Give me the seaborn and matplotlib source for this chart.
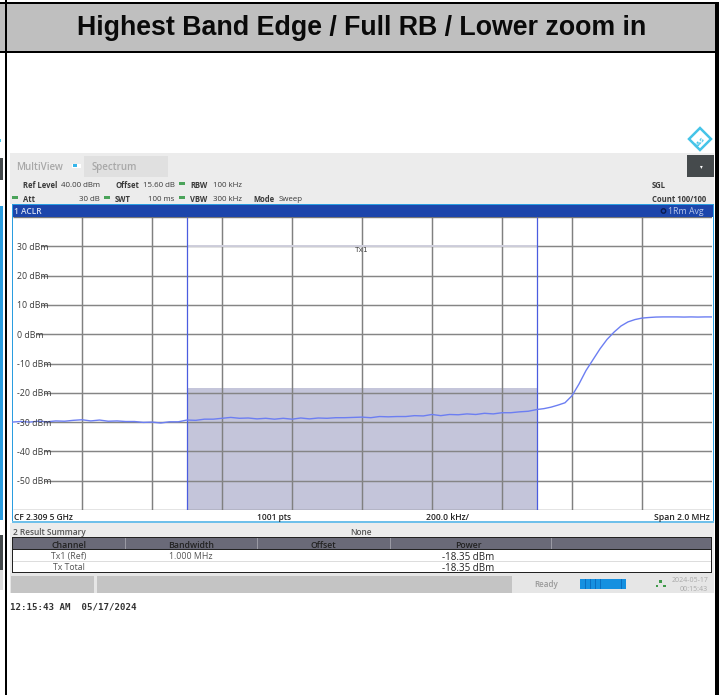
import pandas as pd
import matplotlib
matplotlib.use("Agg")
import matplotlib.pyplot as plt
from matplotlib.patches import Rectangle, Polygon, Circle
import seaborn as sns

W, H = 722, 695

# trace, offset from CF in MHz and level in dBm
freq_offset = [-1.0, -0.975, -0.95, -0.925, -0.9, -0.875, -0.85, -0.825, -0.8, -0.775,
               -0.75, -0.725, -0.7, -0.675, -0.65, -0.625, -0.6, -0.575, -0.55, -0.525,
               -0.5, -0.475, -0.45, -0.425, -0.4, -0.375, -0.35, -0.325, -0.3, -0.275,
               -0.25, -0.225, -0.2, -0.175, -0.15, -0.125, -0.1, -0.075, -0.05, -0.025,
               0.0, 0.025, 0.05, 0.075, 0.1, 0.125, 0.15, 0.175, 0.2, 0.225,
               0.25, 0.275, 0.3, 0.325, 0.35, 0.375, 0.4, 0.425, 0.45, 0.475,
               0.5, 0.52, 0.54, 0.56, 0.58, 0.6, 0.62, 0.64, 0.66, 0.68,
               0.7, 0.72, 0.74, 0.76, 0.78, 0.8, 0.82, 0.84, 0.86, 0.88,
               0.9, 0.92, 0.94, 0.96, 0.98, 1.0]
trace_dbm = [-30.0, -29.8, -30.0, -29.7, -29.9, -29.6, -29.7, -29.4, -29.2, -29.6,
             -29.3, -29.7, -29.6, -29.8, -29.8, -30.1, -30.0, -30.3, -29.9, -29.9,
             -29.3, -29.4, -29.0, -29.0, -28.7, -28.4, -28.7, -28.6, -28.9, -28.7,
             -29.0, -28.7, -29.0, -28.6, -28.9, -28.6, -28.7, -28.5, -28.5, -28.4,
             -28.3, -28.5, -28.1, -28.2, -28.1, -28.1, -27.8, -27.9, -27.4, -27.8,
             -27.4, -27.5, -27.2, -27.4, -27.0, -27.2, -26.8, -26.8, -26.5, -26.3,
             -25.7, -25.4, -24.9, -24.2, -23.4, -21.0, -17.0, -12.4, -8.7, -5.0,
             -1.8, 0.7, 2.8, 4.2, 5.0, 5.5, 5.7, 5.85, 5.9, 5.9,
             5.9, 5.85, 5.9, 5.85, 5.9, 5.9]

y_ticks = [30, 20, 10, 0, -10, -20, -30, -40, -50]
y_labels = ["30 dBm", "20 dBm", "10 dBm", "0 dBm", "-10 dBm", "-20 dBm", "-30 dBm", "-40 dBm", "-50 dBm"]
x_grid = [-0.8, -0.6, -0.4, -0.2, 0.0, 0.2, 0.4, 0.6, 0.8]
channel_edges = [-0.5, 0.5]
channel_power = -18.35

table_columns = ["Channel", "Bandwidth", "Offset", "Power"]
table_row1 = ["Tx1 (Ref)", "1.000 MHz", "", "-18.35 dBm"]
table_row2 = ["Tx Total", "", "", "-18.35 dBm"]

sns.set_theme(style="white")
plt.rcParams['font.family'] = ['Open Sans', 'DejaVu Sans']

fig = plt.figure(figsize=(W / 100, H / 100), dpi=100, facecolor="white")

# full figure axes in pixels for the screen furniture
bg = fig.add_axes([0, 0, 1, 1])
bg.set_xlim(0, W)
bg.set_ylim(H, 0)
bg.axis("off")


def box(x0, y0, x1, y1, color, **kw):
    bg.add_patch(Rectangle((x0, y0), x1 - x0, y1 - y0, facecolor=color, edgecolor="none", **kw))


def label(x, y, s, size=5.7, color="#3a3a3a", ha="left", weight="normal", **kw):
    bg.text(x, y, s, fontsize=size, color=color, ha=ha, va="center_baseline", fontweight=weight, **kw)


# table frame of the report page
box(0, 3, 715, 52, "#bfbfbf")
box(0, 2, 716, 4, "black")
box(0, 51, 716, 53, "black")
box(5, 0, 7, H, "black")
box(715, 2, 718.7, H, "black")
bg.text(361.5, 28, "Highest Band Edge / Full RB / Lower zoom in", fontsize=19.3, fontweight="bold",
        family="Liberation Sans", color="#0a0a0a", ha="center", va="center")

# bits of the neighbouring cell at the left edge
box(0, 139, 1, 142, "#45c4e8")
box(0, 158, 3, 180, "#44494b")
box(0, 206, 2.5, 520, "#2a9de0")
box(0, 535, 2.5, 570, "#44494b")
box(0, 570, 2.5, 590, "#dddddd")

# logo
bg.add_patch(Polygon([(700, 128), (711, 139), (700, 150), (689, 139)], closed=True,
                     facecolor="white", edgecolor="#45c4e8", linewidth=1.8))
label(700, 139, "R&S", size=4.5, color="#45c4e8", ha="center", rotation=45, weight="bold")

# instrument header
box(10, 153, 714, 204, "#ececec")
box(84, 156, 168, 177, "#e0e0e0")
box(687, 155, 714, 177, "#454a4c")
box(72, 164, 81, 168, "white")
box(73, 164, 77, 166.5, "#35b5ea")
label(701, 166, "▾", size=4, color="white", ha="center")
label(16, 166, "MultiView", size=7, color="#a8a8a8", weight="semibold")
label(92, 166, "Spectrum", size=7, color="#a8a8a8", weight="semibold")

label(23, 184, "Ref Level", weight="bold", size=5.5)
label(61, 184.5, "40.00 dBm")
label(115, 184, "Offset", weight="bold", size=5.5)
label(143, 184.5, "15.60 dB")
label(190, 184, "RBW", weight="bold", size=5.5)
label(213, 184.5, "100 kHz")
label(23, 198, "Att", weight="bold", size=5.5)
label(79, 198.5, "30 dB")
label(115, 198, "SWT", weight="bold", size=5.5)
label(148, 198.5, "100 ms")
label(190, 198, "VBW", weight="bold", size=5.5)
label(213, 198.5, "300 kHz")
label(253, 198, "Mode", weight="bold", size=5.5)
label(279, 198.5, "Sweep")
label(652, 184, "SGL", weight="bold", size=5.5)
label(652, 198, "Count 100/100", weight="bold", size=5.5)
for dot_x, dot_y in [(182, 183.5), (15, 197.5), (107, 197.5), (182, 197.5)]:
    bg.add_patch(Rectangle((dot_x - 3, dot_y - 1.5), 6, 3, facecolor="#4aa35a", edgecolor="none"))

# title bar and frame of the diagram
box(12, 204, 714, 216.7, "#1c45ab")
box(11.5, 203.6, 714, 204.6, "#2a9de0")
box(12, 204, 13, 522, "#2a9de0")
box(712.5, 204, 714, 522, "#2a9de0")
box(12, 521.3, 714, 522.5, "#6fc0ea")
label(14, 211, "1 ACLR", size=6, color="#d5ddf2", weight="semibold")
label(668, 211, "1Rm Avg", size=6.3, color="#b8c6ea")
bg.add_patch(Circle((663.5, 211), 2.2, facecolor="#1c45ab", edgecolor="#0b1a50", linewidth=1))

# footer of the diagram
label(14, 516, "CF 2.309 5 GHz", size=6, color="#222222", weight="semibold")
label(274, 516, "1001 pts", size=6, color="#222222", ha="center", weight="semibold")
label(448, 516, "200.0 kHz/", size=6.2, color="#222222", ha="center", weight="semibold")
label(710, 516, "Span 2.0 MHz", size=6.2, color="#222222", ha="right", weight="semibold")

# result summary
box(10, 522.5, 714, 573, "#ececec")
label(13, 531.5, "2 Result Summary", size=6, color="#555555", weight="semibold")
label(361, 531.5, "None", size=6, color="#555555", ha="center", weight="semibold")
box(12, 537, 712, 573, "#222222")
box(13, 538, 711, 549, "#6a6a78")
box(13, 549.5, 711, 572, "white")
box(13, 560.5, 711, 561.5, "#dddddd")
column_x = [69, 191, 323, 468.5]
for sep_x in [125, 257, 390, 551]:
    box(sep_x, 538, sep_x + 0.8, 549, "#9a9aa4")
for cx, head, r1, r2 in zip(column_x, table_columns, table_row1, table_row2):
    label(cx, 544, head, size=6.3, color="#222222", ha="center", weight="semibold")
    row_size = 7 if head == "Power" else 6.3
    row_color = "#222222" if head == "Power" else "#555555"
    if r1:
        label(cx, 555.5, r1, size=row_size, color=row_color, ha="center")
    if r2:
        label(cx, 567, r2, size=row_size, color=row_color, ha="center")

# status bar
box(10, 573, 714, 593, "#e6e6e6")
box(11, 575.5, 93.5, 592.5, "#c4c4c4")
box(97, 575.5, 512, 592.5, "#c4c4c4")
label(546, 583.5, "Ready", size=5.8, color="#999999", ha="center", weight="semibold")
box(580, 578.5, 626, 588.5, "#1590e0")
for seg in range(1, 9):
    box(580 + seg * 5.1, 578.5, 580 + seg * 5.1 + 0.7, 588.5, "#0a6fc0")
for px, py in [(660.7, 581.5), (657, 586), (664.5, 586)]:
    box(px - 1.4, py - 1.4, px + 1.4, py + 1.4, "#3f9a4a")
label(708, 580, "2024-05-17", size=5, color="#aaaaaa", ha="right")
label(708, 588.5, "00:15:43", size=5, color="#aaaaaa", ha="right")

# date stamp under the screenshot
bg.text(10, 607, "12:15:43 AM  05/17/2024", fontsize=6.55, family="DejaVu Sans Mono", fontweight="bold",
        color="#333333", ha="left", va="center")

# the spectrum diagram, transparent so the blue frame stays visible
left, right, top, bottom = 12, 712, 217, 510
ax = fig.add_axes([left / W, 1 - bottom / H, (right - left) / W, (bottom - top) / H], facecolor="none")
ax.set_xlim(-1, 1)
ax.set_ylim(-60, 40)

ax.axvspan(channel_edges[0], channel_edges[1], ymin=0, ymax=(channel_power + 60) / 100,
           facecolor="#c4c5da", edgecolor="none", zorder=1)
ax.vlines(x_grid, -60, 40, color="#808080", linewidth=1.05, zorder=2)
ax.hlines([40, -60], -0.997, 1, color="#777777", linewidth=1.0, zorder=2)
ax.vlines(channel_edges, -60, 40, color="#4a5ce0", linewidth=0.9, zorder=2.2)

trace = pd.DataFrame({"offset": freq_offset, "level": trace_dbm})
sns.lineplot(data=trace, x="offset", y="level", ax=ax, color="#6c7ef2", linewidth=1.0, zorder=3, errorbar=None)

# grid lines start where the level text stops, the text overlaps them a little
renderer = fig.canvas.get_renderer()
for tick, text in zip(y_ticks, y_labels):
    t = ax.text(-0.987, tick, text, fontsize=6.3, color="#3a3a3a", va="center_baseline", ha="left", zorder=4)
    end_px = t.get_window_extent(renderer).x1
    start = ax.transData.inverted().transform((end_px - 7, 0))[0]
    ax.hlines(tick, start, 1, color="#858585", linewidth=1.05, zorder=2)
ax.hlines(30, channel_edges[0], channel_edges[1], color="#cfcfdc", linewidth=1.4, zorder=2.1)
ax.text(0, 28.7, "Tx1", fontsize=5.3, color="#444444", family="DejaVu Sans Mono", ha="center", va="center", zorder=4)

ax.set_xlabel("")
ax.set_ylabel("")
ax.set_xticks([])
ax.set_yticks([])
for side in ax.spines.values():
    side.set_visible(False)

fig.savefig("out.png", dpi=100)
